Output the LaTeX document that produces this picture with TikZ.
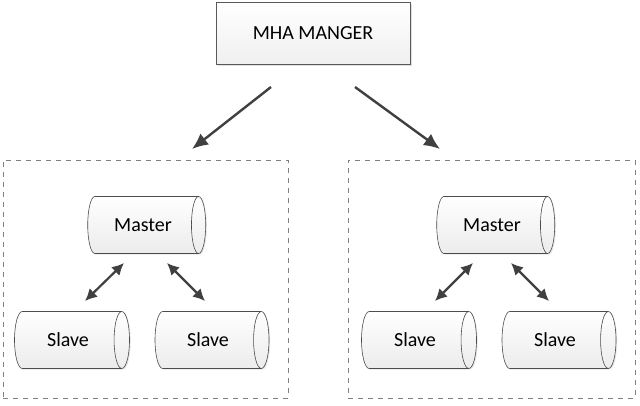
\documentclass[tikz,border=0pt]{standalone}
\usepackage{fontspec}
\setmainfont{Carlito}
\usetikzlibrary{shapes.geometric,arrows.meta,shadows}
\begin{document}
\begin{tikzpicture}[x=1pt,y=-1pt,
  mgr/.style={draw=gray!70!black,line width=0.8pt,top color=white,bottom color=gray!12,
    minimum width=194pt,minimum height=62pt,inner sep=0pt,font=\fontsize{20}{24}\selectfont,
    drop shadow={shadow xshift=1.5pt,shadow yshift=-1.5pt,opacity=0.25}},
  db/.style={cylinder,shape border rotate=0,aspect=1.1,draw=gray!60!black,line width=0.6pt,
    top color=white,bottom color=gray!15,minimum width=57pt,minimum height=118pt,inner sep=0pt,
    font=\fontsize{20}{24}\selectfont,
    drop shadow={shadow xshift=1.2pt,shadow yshift=-1.2pt,opacity=0.2}},
  grp/.style={draw=gray,dash pattern=on 5pt off 5pt,line width=0.6pt},
  arr/.style={draw=black!75,line width=2.4pt,-{Latex[length=16pt,width=14pt]}},
  darr/.style={draw=black!75,line width=2.2pt,{Latex[length=12pt,width=12pt]}-{Latex[length=12pt,width=12pt]}}]
\useasboundingbox (0,0) rectangle (640,405);
\node[grp,minimum width=285pt,minimum height=238pt,inner sep=0pt] (gl) at (145.5,279) {};
\node[grp,minimum width=287pt,minimum height=238pt,inner sep=0pt] (gr) at (491.5,279) {};
\node[mgr] (m) at (313,33) {MHA MANGER};
\coordinate (a1) at (271,87); \coordinate (a2) at (192,149);
\coordinate (b1) at (355,87); \coordinate (b2) at (440,149);
\draw[arr] (a1) -- (a2);
\draw[arr] (b1) -- (b2);
\node[db] (ml) at (143,225) {Master};
\node[db] (mr) at (492,225) {Master};
\node[db,minimum height=115pt] (s1) at (68,340) {Slave};
\node[db,minimum height=114pt] (s2) at (208,340) {Slave};
\node[db,minimum height=115pt] (s3) at (415,340) {Slave};
\node[db,minimum height=114pt] (s4) at (555,340) {Slave};
\coordinate (c1) at (85,301); \coordinate (c2) at (124,263);
\coordinate (c3) at (167,263); \coordinate (c4) at (205,301);
\coordinate (c5) at (435,301); \coordinate (c6) at (473,263);
\coordinate (c7) at (511,263); \coordinate (c8) at (549,301);
\draw[darr] (c1) -- (c2);
\draw[darr] (c3) -- (c4);
\draw[darr] (c5) -- (c6);
\draw[darr] (c7) -- (c8);
\end{tikzpicture}
\end{document}
